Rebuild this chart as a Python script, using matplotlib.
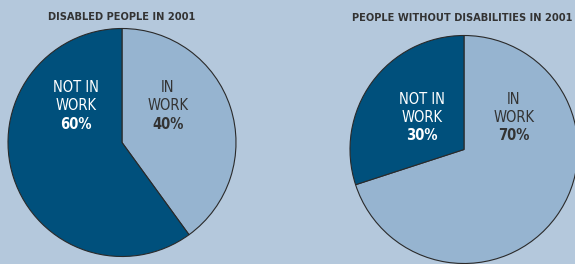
import matplotlib.pyplot as plt

# data
titles = ["DISABLED PEOPLE IN 2001", "PEOPLE WITHOUT DISABILITIES IN 2001"]
in_work = [40, 70]
not_in_work = [60, 30]
not_label = ["NOT IN", "WORK"]
in_label = ["IN", "WORK"]

bg = "#b4c8dc"
dark = "#00507c"
light = "#96b4d0"
txt = "#333333"
font = ["DejaVu Sans"]

fig = plt.figure(figsize=(5.75, 2.64), dpi=100)
fig.patch.set_facecolor(bg)
ax = fig.add_axes([0, 0, 1, 1])

centers = [(122, 121.5), (464, 114.5)]
title_pos = [(121.5, 247.5), (462, 246)]
# x of "not in work" label, x of "in work" label, y of first line
lab_x = [(76, 168), (422, 514)]
lab_y = [176.5, 165]
step = 18.5


def label(x, y, lines, pct, color):
    for k, s in enumerate(lines):
        ax.text(x, y - k * step, s, ha="center", va="center", fontsize=10.5,
                color=color, family=font, fontstretch="condensed")
    ax.text(x, y - 2 * step, "%d%%" % pct, ha="center", va="center",
            fontsize=10.5, fontweight="bold", color=color, family=font,
            fontstretch="condensed")


for i in range(2):
    ax.pie([in_work[i], not_in_work[i]], colors=[light, dark], startangle=90,
           counterclock=False, center=centers[i], radius=114,
           wedgeprops=dict(edgecolor="#2a2a2a", linewidth=0.8))
    ax.text(title_pos[i][0], title_pos[i][1], titles[i], ha="center", va="center",
            fontsize=7.9, fontweight="bold", color=txt, family=font,
            fontstretch="condensed")
    label(lab_x[i][0], lab_y[i], not_label, not_in_work[i], "white")
    label(lab_x[i][1], lab_y[i], in_label, in_work[i], txt)

# pie() resets the limits, so set them afterwards
ax.set_xlim(0, 575)
ax.set_ylim(0, 264)
ax.set_aspect("auto")
ax.axis("off")
fig.savefig("out.png", dpi=100, facecolor=bg)
